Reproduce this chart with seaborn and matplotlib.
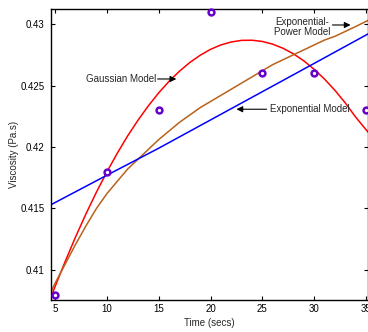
import matplotlib
matplotlib.use("Agg")
import matplotlib.pyplot as plt
import seaborn as sns
import pandas as pd
from matplotlib import font_manager

# ---- data ----
time_obs = [5, 10, 15, 20, 25, 30, 35]
visc_obs = [0.4080, 0.4180, 0.4230, 0.4310, 0.4260, 0.4260, 0.4230]

gauss_x = [4.6, 5, 6, 7, 8, 9, 10, 11, 12, 13, 14, 15, 16, 17, 18, 19, 20,
           21, 22, 23, 24, 25, 26, 27, 28, 29, 30, 31, 32, 33, 34, 35, 35.2]
gauss_y = [0.40776, 0.40862, 0.41072, 0.41271, 0.41458, 0.41633, 0.41796,
           0.41948, 0.42089, 0.42217, 0.42334, 0.42440, 0.42534, 0.42616,
           0.42687, 0.42746, 0.42794, 0.42830, 0.42854, 0.42867, 0.42868,
           0.42858, 0.42836, 0.42802, 0.42757, 0.42700, 0.42631, 0.42551,
           0.42460, 0.42357, 0.42242, 0.42140, 0.42120]

exppow_x = [4.6, 5, 6, 7, 8, 9, 10, 11, 12, 13, 14, 15, 16, 17, 18, 19, 20,
            21, 22, 23, 24, 25, 26, 27, 28, 29, 30, 31, 32, 33, 34, 35.2]
exppow_y = [0.4082, 0.4089, 0.4105, 0.4121, 0.4136, 0.4150, 0.4162, 0.4172,
            0.4182, 0.4190, 0.4198, 0.4206, 0.4213, 0.4220, 0.4226, 0.4232,
            0.4237, 0.4242, 0.4247, 0.4252, 0.4257, 0.4262, 0.4267, 0.4271,
            0.4275, 0.4279, 0.4283, 0.4287, 0.4290, 0.4294, 0.4298, 0.4303]

exp_x = [4.6, 10, 15, 20, 25, 30, 35.2]
exp_y = [0.4153, 0.4177, 0.4199, 0.4222, 0.4245, 0.4268, 0.4292]

xticks = [5, 10, 15, 20, 25, 30, 35]
yticks = [0.41, 0.415, 0.42, 0.425, 0.43]
ytick_labels = ["0.41", "0.415", "0.42", "0.425", "0.43"]

sns.set_style("ticks")
names = {f.name for f in font_manager.fontManager.ttflist}
base_font = "Liberation Sans" if "Liberation Sans" in names else "DejaVu Sans"
tick_font = "Liberation Sans Narrow" if "Liberation Sans Narrow" in names else base_font
plt.rcParams["font.family"] = [base_font, "DejaVu Sans"]

fig = plt.figure(figsize=(3.68, 3.32), dpi=100)
ax = fig.add_axes([51 / 368, 32 / 332, 317 / 368, 291 / 332])

obs = pd.DataFrame({"t": time_obs, "v": visc_obs})
gdf = pd.DataFrame({"t": gauss_x, "v": gauss_y})
pdf = pd.DataFrame({"t": exppow_x, "v": exppow_y})
edf = pd.DataFrame({"t": exp_x, "v": exp_y})

sns.lineplot(data=gdf, x="t", y="v", ax=ax, color="#ff0000", lw=1.1, sort=False)
sns.lineplot(data=pdf, x="t", y="v", ax=ax, color="#b8621b", lw=1.1, sort=False)
sns.lineplot(data=edf, x="t", y="v", ax=ax, color="#0000ff", lw=1.1, sort=False)
ax.plot(obs["t"], obs["v"], ls="none", marker="o", ms=4.2, mew=1.8,
        mec="#6600cc", mfc="white", zorder=5, clip_on=False)

ax.set_xlim(4.62, 35.18)
ax.set_ylim(0.40756, 0.43122)
ax.set_xticks(xticks)
ax.set_xticklabels([str(t) for t in xticks], fontfamily=tick_font, fontsize=7)
ax.set_yticks(yticks)
ax.set_yticklabels(ytick_labels, fontfamily=tick_font, fontsize=7)
ax.tick_params(direction="in", length=3, width=0.8, top=True, right=True,
               colors="black")
ax.tick_params(axis="y", pad=4.5)
ax.tick_params(axis="x", pad=3)
for s in ax.spines.values():
    s.set_visible(True)
    s.set_linewidth(1.0)
    s.set_color("black")

ax.set_xlabel("Time (secs)", fontsize=7, labelpad=3)
ax.set_ylabel("Viscosity (Pa.s)", fontsize=7, labelpad=1.5)

arrow = dict(arrowstyle="-|>", color="black", lw=0.8, mutation_scale=9,
             shrinkA=0, shrinkB=0)
ax.text(14.75, 0.42553, "Gaussian Model", fontsize=7, ha="right", va="center")
ax.annotate("", xy=(16.7, 0.42553), xytext=(14.9, 0.42553), arrowprops=arrow)

ax.text(28.8, 0.42975, "Exponential-\nPower Model", fontsize=7, ha="center",
        va="center", multialignment="center", linespacing=1.0)
ax.annotate("", xy=(33.5, 0.42992), xytext=(31.75, 0.42992), arrowprops=arrow)

ax.text(25.75, 0.42307, "Exponential Model", fontsize=7, ha="left", va="center")
ax.annotate("", xy=(22.5, 0.42307), xytext=(25.4, 0.42307), arrowprops=arrow)

fig.savefig("out.png", dpi=100)
